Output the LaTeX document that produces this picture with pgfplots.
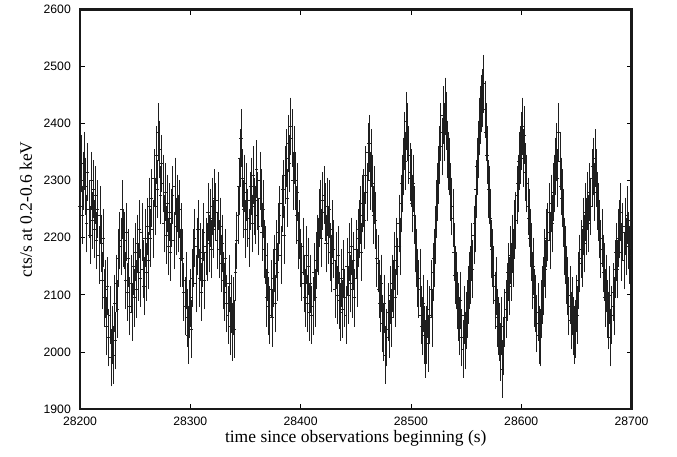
\documentclass[border=0pt]{standalone}
\usepackage{fontspec}
\setmainfont{Liberation Serif}
\setsansfont{Liberation Sans}
\usepackage{pgfplots}
\pgfplotsset{compat=1.18}
\begin{document}
\begin{tikzpicture}
\useasboundingbox (-80pt,-47pt) rectangle (597pt,409pt);
\begin{axis}[
  at={(0pt,0pt)}, anchor=south west,
  scale only axis, width=551.5pt, height=399.5pt,
  xmin=28200, xmax=28700, ymin=1900, ymax=2600,
  xtick={28200,28300,...,28700}, ytick={1900,2000,...,2600},
  scaled x ticks=false, scaled y ticks=false,
  minor tick num=0,
  tick align=inside, major tick length=5pt,
  every tick/.style={black, line width=0.8pt},
  axis line style={line width=2.3pt, black!90},
  /pgf/number format/assume math mode=true,
  /pgf/number format/1000 sep={},
  ticklabel style={font=\sffamily\fontsize{12.2}{14}\selectfont, inner sep=0pt},
  xticklabel style={anchor=north, yshift=-8pt},
  yticklabel style={anchor=east, xshift=-9pt},
  xlabel={time since observations beginning (s)},
  ylabel={cts/s at 0.2-0.6 keV},
  every axis x label/.style={at={(axis description cs:0.5,0)}, anchor=center, yshift=-29pt, font=\fontsize{17.5}{20}\selectfont},
  every axis y label/.style={at={(axis description cs:-0.098,0.5)}, anchor=center, rotate=90, font=\fontsize{17.5}{20}\selectfont},
]
\addplot[only marks, mark=-, mark size=1.6pt, black!88, line width=0.45pt,
  error bars/.cd, y dir=both, y fixed=47,
  error bar style={line width=0.45pt, black!88},
  error mark options={mark size=2pt, line width=0.45pt, black!88}]
coordinates {
(28200,2255)(28201,2330)(28202,2240)(28203,2300)(28204,2335)
(28205,2290)(28206,2225)(28207,2315)(28208,2250)
(28209,2205)(28210,2300)(28211,2230)(28212,2285)(28213,2215)
(28214,2275)(28215,2195)(28216,2250)(28217,2170)(28218,2240)
(28219,2190)(28220,2125)(28221,2200)(28222,2095)
(28223,2110)(28224,2045)(28225,2115)(28226,2025)
(28227,2065)(28228,1990)(28229,2030)
(28230,1995)(28231,2085)(28232,2020)
(28233,2120)(28234,2075)(28235,2165)(28236,2195)
(28237,2185)(28238,2250)(28239,2200)
(28240,2195)(28241,2125)(28242,2210)
(28243,2105)(28244,2165)(28245,2080)(28246,2120)
(28247,2070)(28248,2150)(28249,2095)(28250,2175)
(28251,2110)(28252,2190)(28253,2140)(28254,2215)(28255,2130)
(28256,2210)(28257,2145)(28258,2115)(28259,2200)(28260,2140)
(28261,2220)(28262,2160)(28263,2255)(28264,2200)
(28265,2270)(28266,2215)(28267,2305)(28268,2255)
(28269,2345)(28270,2285)(28271,2385)
(28272,2355)(28273,2275)(28274,2330)
(28275,2295)(28276,2225)(28277,2280)(28278,2205)
(28279,2260)(28280,2185)(28281,2245)(28282,2175)(28283,2235)
(28284,2275)(28285,2195)(28286,2290)(28287,2220)(28288,2260)
(28289,2225)(28290,2250)(28291,2165)(28292,2210)
(28293,2165)(28294,2105)(28295,2080)(28296,2125)
(28297,2060)(28298,2030)(28299,2075)
(28300,2095)(28301,2040)(28302,2130)
(28303,2165)(28304,2200)(28305,2120)(28306,2185)
(28307,2215)(28308,2130)(28309,2175)(28310,2105)
(28311,2165)(28312,2210)(28313,2125)(28314,2185)
(28315,2175)(28316,2245)(28317,2190)(28318,2235)
(28319,2180)(28320,2255)(28321,2215)(28322,2270)
(28323,2245)(28324,2195)(28325,2265)(28326,2180)
(28327,2220)(28328,2155)(28329,2190)(28330,2125)
(28331,2105)(28332,2165)(28333,2085)(28334,2065)
(28335,2120)(28336,2045)(28337,2085)(28338,2035)
(28339,2080)(28340,2040)(28341,2140)
(28342,2195)(28343,2240)(28344,2290)
(28345,2340)(28346,2375)
(28347,2305)(28348,2250)(28349,2295)
(28350,2215)(28351,2280)(28352,2235)(28353,2200)(28354,2265)
(28355,2290)(28356,2225)(28357,2310)(28358,2255)
(28359,2240)(28360,2320)(28361,2265)(28362,2220)(28363,2300)
(28364,2270)(28365,2210)(28366,2250)(28367,2180)
(28368,2170)(28369,2095)(28370,2140)(28371,2080)
(28372,2065)(28373,2110)(28374,2060)(28375,2130)
(28376,2155)(28377,2085)(28378,2180)(28379,2140)(28380,2210)
(28381,2240)(28382,2170)(28383,2260)(28384,2285)
(28385,2205)(28386,2310)(28387,2340)(28388,2270)
(28389,2365)(28390,2330)(28391,2395)
(28392,2375)(28393,2300)(28394,2345)
(28395,2300)(28396,2240)(28397,2280)(28398,2195)
(28399,2215)(28400,2165)(28401,2140)(28402,2185)
(28403,2120)(28404,2095)(28405,2170)(28406,2085)
(28407,2150)(28408,2070)(28409,2120)(28410,2065)
(28411,2080)(28412,2140)(28413,2095)(28414,2160)
(28415,2190)(28416,2185)(28417,2235)(28418,2250)
(28419,2200)(28420,2265)(28421,2275)
(28422,2245)(28423,2190)(28424,2255)(28425,2205)
(28426,2250)(28427,2175)(28428,2155)(28429,2215)
(28430,2180)(28431,2110)(28432,2160)(28433,2100)
(28434,2170)(28435,2090)(28436,2070)(28437,2130)
(28438,2075)(28439,2145)(28440,2095)(28441,2065)
(28442,2150)(28443,2100)(28444,2175)(28445,2120)
(28446,2185)(28447,2110)(28448,2160)(28449,2095)
(28450,2180)(28451,2130)(28452,2200)(28453,2215)
(28454,2240)(28455,2175)(28456,2260)(28457,2270)
(28458,2230)(28459,2310)(28460,2280)(28461,2350)
(28462,2365)(28463,2300)(28464,2340)
(28465,2295)(28466,2240)(28467,2275)
(28468,2230)(28469,2165)(28470,2155)(28471,2110)
(28472,2085)(28473,2120)(28474,2050)
(28475,2035)(28476,2085)(28477,1995)
(28478,2025)(28479,2070)(28480,2040)(28481,2100)
(28482,2060)(28483,2120)(28484,2110)(28485,2160)
(28486,2095)(28487,2185)(28488,2150)(28489,2225)
(28490,2185)(28491,2260)(28492,2295)(28493,2325)
(28494,2370)(28495,2335)(28496,2405)
(28497,2385)(28498,2345)(28499,2315)
(28500,2305)(28501,2260)(28502,2295)
(28503,2240)(28504,2190)(28505,2165)(28506,2130)
(28507,2110)(28508,2130)(28509,2065)(28510,2045)
(28511,2085)(28512,2030)(28513,2005)
(28514,2030)(28515,2075)(28516,2015)(28517,2065)
(28518,2110)(28519,2060)(28520,2140)(28521,2165)
(28522,2205)(28523,2250)(28524,2280)(28525,2310)
(28526,2345)(28527,2385)(28528,2360)
(28529,2415)(28530,2385)(28531,2430)
(28532,2405)(28533,2355)(28534,2335)
(28535,2325)(28536,2280)(28537,2255)
(28538,2235)(28539,2175)(28540,2135)
(28541,2125)(28542,2090)(28543,2070)(28544,2045)
(28545,2090)(28546,2025)(28547,2005)
(28548,2065)(28549,2020)(28550,2055)
(28551,2075)(28552,2100)(28553,2125)
(28554,2135)(28555,2175)(28556,2145)(28557,2205)
(28558,2225)(28559,2285)(28560,2325)(28561,2355)
(28562,2395)(28563,2415)(28564,2435)
(28565,2445)(28566,2470)
(28567,2425)(28568,2385)
(28569,2345)(28570,2285)(28571,2275)
(28572,2235)(28573,2180)(28574,2165)(28575,2135)
(28576,2090)(28577,2115)(28578,2060)(28579,2045)
(28580,2035)(28581,2000)(28582,2045)(28583,1970)
(28584,2010)(28585,2060)(28586,2075)
(28587,2105)(28588,2140)(28589,2115)(28590,2170)
(28591,2140)(28592,2190)(28593,2165)(28594,2215)
(28595,2230)(28596,2275)(28597,2295)(28598,2335)
(28599,2345)(28600,2370)(28601,2395)
(28602,2340)(28603,2380)(28604,2315)
(28605,2295)(28606,2255)(28607,2235)(28608,2200)
(28609,2175)(28610,2125)(28611,2150)(28612,2095)
(28613,2085)(28614,2050)(28615,2070)(28616,2030)
(28617,2025)(28618,2075)(28619,2100)
(28620,2115)(28621,2165)(28622,2145)(28623,2200)
(28624,2210)(28625,2245)(28626,2195)(28627,2260)
(28628,2225)(28629,2280)(28630,2295)(28631,2325)
(28632,2350)(28633,2305)(28634,2385)
(28635,2335)(28636,2290)(28637,2270)
(28638,2235)(28639,2185)(28640,2170)(28641,2135)
(28642,2115)(28643,2080)(28644,2100)(28645,2055)
(28646,2080)(28647,2045)(28648,2030)
(28649,2040)(28650,2085)(28651,2065)(28652,2125)
(28653,2155)(28654,2180)(28655,2165)(28656,2220)
(28657,2190)(28658,2245)(28659,2220)(28660,2265)
(28661,2225)(28662,2280)(28663,2255)(28664,2305)
(28665,2325)(28666,2280)(28667,2340)
(28668,2305)(28669,2265)(28670,2245)
(28671,2215)(28672,2180)(28673,2200)(28674,2155)
(28675,2140)(28676,2095)(28677,2120)(28678,2075)
(28679,2055)(28680,2100)(28681,2025)
(28682,2065)(28683,2105)(28684,2080)(28685,2145)
(28686,2175)(28687,2145)(28688,2200)(28689,2215)
(28690,2245)(28691,2175)(28692,2210)(28693,2160)
(28694,2220)(28695,2185)(28696,2240)(28697,2195)
(28698,2170)(28699,2230)
};
\end{axis}
\end{tikzpicture}
\end{document}
